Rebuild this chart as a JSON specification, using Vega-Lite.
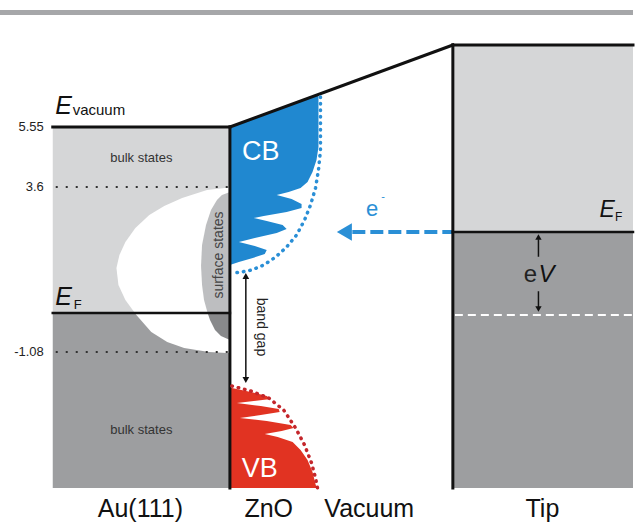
{
  "$schema": "https://vega.github.io/schema/vega-lite/v6.json",
  "width": 636,
  "height": 526,
  "padding": 0,
  "autosize": {"type": "fit", "contains": "padding"},
  "background": "white",
  "config": {"view": {"stroke": null}, "text": {"font": "Liberation Sans"}},
  "datasets": {
    "rects": [
      {"x": 0, "x2": 636, "y": 10, "y2": 15, "c": "#a6a7a9"},
      {"x": 53, "x2": 231, "y": 127, "y2": 313, "c": "#d5d6d7"},
      {"x": 53, "x2": 231, "y": 313, "y2": 488, "c": "#9d9ea0"},
      {"x": 455, "x2": 636, "y": 45, "y2": 232, "c": "#d5d6d7"},
      {"x": 455, "x2": 636, "y": 232, "y2": 488, "c": "#9d9ea0"}
    ],
    "hole": [
      {"y": 188, "x": 226, "x2": 231},
      {"y": 190, "x": 208, "x2": 231},
      {"y": 198, "x": 183, "x2": 231},
      {"y": 206, "x": 165, "x2": 231},
      {"y": 215, "x": 150, "x2": 231},
      {"y": 228, "x": 136, "x2": 231},
      {"y": 242, "x": 126, "x2": 231},
      {"y": 255, "x": 120, "x2": 231},
      {"y": 268, "x": 117, "x2": 231},
      {"y": 285, "x": 119, "x2": 231},
      {"y": 300, "x": 126, "x2": 231},
      {"y": 315, "x": 137, "x2": 231},
      {"y": 332, "x": 152, "x2": 231},
      {"y": 342, "x": 168, "x2": 231},
      {"y": 348, "x": 185, "x2": 231},
      {"y": 352, "x": 210, "x2": 231},
      {"y": 353, "x": 228, "x2": 231}
    ],
    "surfLight": [
      {"y": 192, "x": 231, "x2": 231},
      {"y": 195, "x": 223, "x2": 231},
      {"y": 200, "x": 218, "x2": 231},
      {"y": 210, "x": 212, "x2": 231},
      {"y": 225, "x": 207, "x2": 231},
      {"y": 245, "x": 203, "x2": 231},
      {"y": 266, "x": 202, "x2": 231},
      {"y": 285, "x": 203, "x2": 231},
      {"y": 300, "x": 205, "x2": 231},
      {"y": 313, "x": 208.6, "x2": 231}
    ],
    "surfDark": [
      {"y": 313, "x": 208.6, "x2": 231},
      {"y": 320, "x": 211, "x2": 231},
      {"y": 330, "x": 216, "x2": 231},
      {"y": 336, "x": 222, "x2": 231},
      {"y": 340, "x": 231, "x2": 231}
    ],
    "cb": [
      {"y": 94.4, "x": 320, "x2": 320},
      {"y": 127, "x": 231, "x2": 320},
      {"y": 147, "x": 231, "x2": 320},
      {"y": 160, "x": 231, "x2": 318},
      {"y": 172, "x": 231, "x2": 314},
      {"y": 182, "x": 231, "x2": 309},
      {"y": 188, "x": 231, "x2": 302},
      {"y": 192, "x": 231, "x2": 290},
      {"y": 195, "x": 231, "x2": 278},
      {"y": 199, "x": 231, "x2": 293},
      {"y": 204, "x": 231, "x2": 303},
      {"y": 208, "x": 231, "x2": 303},
      {"y": 212, "x": 231, "x2": 288},
      {"y": 216, "x": 231, "x2": 265},
      {"y": 218, "x": 231, "x2": 255},
      {"y": 221, "x": 231, "x2": 268},
      {"y": 225, "x": 231, "x2": 284},
      {"y": 229, "x": 231, "x2": 288},
      {"y": 233, "x": 231, "x2": 278},
      {"y": 238, "x": 231, "x2": 256},
      {"y": 242, "x": 231, "x2": 240},
      {"y": 246, "x": 231, "x2": 256},
      {"y": 250, "x": 231, "x2": 268},
      {"y": 254, "x": 231, "x2": 266},
      {"y": 258, "x": 231, "x2": 254},
      {"y": 262, "x": 231, "x2": 240},
      {"y": 265, "x": 231, "x2": 231}
    ],
    "vb": [
      {"y": 388, "x": 231, "x2": 233},
      {"y": 392, "x": 231, "x2": 252},
      {"y": 396, "x": 231, "x2": 268},
      {"y": 399, "x": 231, "x2": 272},
      {"y": 401, "x": 231, "x2": 255},
      {"y": 403, "x": 231, "x2": 238},
      {"y": 406, "x": 231, "x2": 262},
      {"y": 409, "x": 231, "x2": 280},
      {"y": 412, "x": 231, "x2": 281},
      {"y": 415, "x": 231, "x2": 262},
      {"y": 418, "x": 231, "x2": 241},
      {"y": 421, "x": 231, "x2": 268},
      {"y": 425, "x": 231, "x2": 292},
      {"y": 428, "x": 231, "x2": 295},
      {"y": 431, "x": 231, "x2": 283},
      {"y": 434, "x": 231, "x2": 266},
      {"y": 437, "x": 231, "x2": 279},
      {"y": 442, "x": 231, "x2": 294},
      {"y": 450, "x": 231, "x2": 302},
      {"y": 460, "x": 231, "x2": 309},
      {"y": 472, "x": 231, "x2": 314},
      {"y": 488, "x": 231, "x2": 318}
    ],
    "cbArc": [
      {"i": 0, "x": 322, "y": 97},
      {"i": 1, "x": 322, "y": 125},
      {"i": 2, "x": 322, "y": 150},
      {"i": 3, "x": 320, "y": 170},
      {"i": 4, "x": 317, "y": 188},
      {"i": 5, "x": 312, "y": 205},
      {"i": 6, "x": 306, "y": 220},
      {"i": 7, "x": 298, "y": 235},
      {"i": 8, "x": 288, "y": 247},
      {"i": 9, "x": 277, "y": 257},
      {"i": 10, "x": 265, "y": 265},
      {"i": 11, "x": 253, "y": 270},
      {"i": 12, "x": 243, "y": 272},
      {"i": 13, "x": 234, "y": 273}
    ],
    "vbArc": [
      {"i": 0, "x": 233, "y": 386},
      {"i": 1, "x": 252, "y": 391},
      {"i": 2, "x": 270, "y": 398},
      {"i": 3, "x": 285, "y": 410},
      {"i": 4, "x": 297, "y": 428},
      {"i": 5, "x": 306, "y": 445},
      {"i": 6, "x": 313, "y": 463},
      {"i": 7, "x": 317, "y": 478},
      {"i": 8, "x": 319, "y": 488}
    ],
    "dots": [
      {"x": 56, "x2": 231, "y": 187, "y2": 187},
      {"x": 56, "x2": 231, "y": 352, "y2": 352}
    ],
    "lines": [
      {"x": 53, "x2": 231, "y": 127, "y2": 127, "w": 3},
      {"x": 231, "x2": 455, "y": 127, "y2": 45, "w": 3},
      {"x": 455, "x2": 636, "y": 45, "y2": 45, "w": 3},
      {"x": 231, "x2": 231, "y": 127, "y2": 488, "w": 3},
      {"x": 455, "x2": 455, "y": 45, "y2": 488, "w": 3},
      {"x": 53, "x2": 231, "y": 313, "y2": 313, "w": 2.5},
      {"x": 455, "x2": 636, "y": 232, "y2": 232, "w": 2.5},
      {"x": 247, "x2": 247, "y": 279, "y2": 377, "w": 1.5},
      {"x": 541, "x2": 541, "y": 240, "y2": 256, "w": 1.5},
      {"x": 541, "x2": 541, "y": 292, "y2": 307, "w": 1.5}
    ],
    "whiteDash": [
      {"x": 457, "x2": 636, "y": 315, "y2": 315}
    ],
    "blueDash": [
      {"x": 354, "x2": 455, "y": 232, "y2": 232}
    ],
    "heads": [
      {"x": 247, "y": 276, "s": "triangle-up", "c": "#111111", "sz": 45},
      {"x": 247, "y": 380, "s": "triangle-down", "c": "#111111", "sz": 45},
      {"x": 541, "y": 237, "s": "triangle-up", "c": "#111111", "sz": 40},
      {"x": 541, "y": 309, "s": "triangle-down", "c": "#111111", "sz": 40},
      {"x": 346, "y": 232, "s": "triangle-left", "c": "#2a8fd6", "sz": 300}
    ],
    "txtC": [
      {"x": 142, "y": 158, "t": "bulk states", "s": 13, "c": "#333333", "a": 0},
      {"x": 142, "y": 430, "t": "bulk states", "s": 13, "c": "#333333", "a": 0},
      {"x": 262, "y": 152, "t": "CB", "s": 27, "c": "#ffffff", "a": 0},
      {"x": 261, "y": 469, "t": "VB", "s": 27, "c": "#ffffff", "a": 0},
      {"x": 141, "y": 509, "t": "Au(111)", "s": 25, "c": "#111111", "a": 0},
      {"x": 270, "y": 509, "t": "ZnO", "s": 25, "c": "#111111", "a": 0},
      {"x": 371, "y": 509, "t": "Vacuum", "s": 25, "c": "#111111", "a": 0},
      {"x": 545, "y": 509, "t": "Tip", "s": 25, "c": "#111111", "a": 0},
      {"x": 374, "y": 209, "t": "e", "s": 22, "c": "#2a8fd6", "a": 0},
      {"x": 385, "y": 197, "t": "-", "s": 11, "c": "#2a8fd6", "a": 0},
      {"x": 533, "y": 275, "t": "e", "s": 24, "c": "#222222", "a": 0},
      {"x": 220, "y": 255, "t": "surface states", "s": 14, "c": "#444444", "a": 270},
      {"x": 262, "y": 327, "t": "band gap", "s": 14, "c": "#222222", "a": 90}
    ],
    "txtR": [
      {"x": 44, "y": 127, "t": "5.55", "s": 13},
      {"x": 44, "y": 187, "t": "3.6", "s": 13},
      {"x": 44, "y": 352, "t": "-1.08", "s": 13}
    ],
    "txtI": [
      {"x": 64, "y": 106, "t": "E", "s": 25},
      {"x": 64, "y": 297, "t": "E", "s": 25},
      {"x": 610, "y": 210, "t": "E", "s": 23},
      {"x": 549, "y": 275, "t": "V", "s": 24}
    ],
    "txtL": [
      {"x": 73, "y": 110, "t": "vacuum", "s": 15},
      {"x": 74, "y": 305, "t": "F", "s": 13},
      {"x": 618, "y": 217, "t": "F", "s": 12}
    ]
  },
  "encoding": {
    "x": {"field": "x", "type": "quantitative", "axis": null, "scale": {"domain": [0, 636], "nice": false, "zero": false}},
    "y": {"field": "y", "type": "quantitative", "axis": null, "scale": {"domain": [0, 526], "nice": false, "zero": false, "reverse": true}}
  },
  "layer": [
    {
      "data": {"name": "rects"},
      "mark": {"type": "rect"},
      "encoding": {
        "x2": {"field": "x2"},
        "y2": {"field": "y2"},
        "color": {"field": "c", "type": "nominal", "scale": null}
      }
    },
    {
      "data": {"name": "hole"},
      "mark": {"type": "area", "orient": "horizontal", "color": "#ffffff"},
      "encoding": {"x2": {"field": "x2"}}
    },
    {
      "data": {"name": "surfLight"},
      "mark": {"type": "area", "orient": "horizontal", "color": "#bdbec0"},
      "encoding": {"x2": {"field": "x2"}}
    },
    {
      "data": {"name": "surfDark"},
      "mark": {"type": "area", "orient": "horizontal", "color": "#88898b"},
      "encoding": {"x2": {"field": "x2"}}
    },
    {
      "data": {"name": "cb"},
      "mark": {"type": "area", "orient": "horizontal", "color": "#2088d0"},
      "encoding": {"x2": {"field": "x2"}}
    },
    {
      "data": {"name": "vb"},
      "mark": {"type": "area", "orient": "horizontal", "color": "#e13322"},
      "encoding": {"x2": {"field": "x2"}}
    },
    {
      "data": {"name": "dots"},
      "mark": {"type": "rule", "color": "#333333", "strokeWidth": 2, "strokeDash": [2, 8]},
      "encoding": {"x2": {"field": "x2"}, "y2": {"field": "y2"}}
    },
    {
      "data": {"name": "whiteDash"},
      "mark": {"type": "rule", "color": "#ffffff", "strokeWidth": 2, "strokeDash": [8, 5]},
      "encoding": {"x2": {"field": "x2"}, "y2": {"field": "y2"}}
    },
    {
      "data": {"name": "blueDash"},
      "mark": {"type": "rule", "color": "#2a8fd6", "strokeWidth": 4, "strokeDash": [13, 5]},
      "encoding": {"x2": {"field": "x2"}, "y2": {"field": "y2"}}
    },
    {
      "data": {"name": "lines"},
      "mark": {"type": "rule", "color": "#111111", "strokeCap": "square"},
      "encoding": {
        "x2": {"field": "x2"},
        "y2": {"field": "y2"},
        "strokeWidth": {"field": "w", "type": "quantitative", "scale": null}
      }
    },
    {
      "data": {"name": "cbArc"},
      "mark": {"type": "line", "color": "#2a8fd6", "strokeWidth": 3.5, "strokeDash": [0.5, 6], "strokeCap": "round"},
      "encoding": {"order": {"field": "i", "type": "quantitative"}}
    },
    {
      "data": {"name": "vbArc"},
      "mark": {"type": "line", "color": "#c4262b", "strokeWidth": 3.5, "strokeDash": [0.5, 6], "strokeCap": "round"},
      "encoding": {"order": {"field": "i", "type": "quantitative"}}
    },
    {
      "data": {"name": "heads"},
      "mark": {"type": "point", "filled": true, "opacity": 1, "strokeWidth": 0},
      "encoding": {
        "shape": {"field": "s", "type": "nominal", "scale": null},
        "color": {"field": "c", "type": "nominal", "scale": null},
        "size": {"field": "sz", "type": "quantitative", "scale": null}
      }
    },
    {
      "data": {"name": "txtC"},
      "mark": {"type": "text", "align": "center", "baseline": "middle", "font": "Liberation Sans"},
      "encoding": {
        "text": {"field": "t"},
        "size": {"field": "s", "type": "quantitative", "scale": null},
        "color": {"field": "c", "type": "nominal", "scale": null},
        "angle": {"field": "a", "type": "quantitative", "scale": null}
      }
    },
    {
      "data": {"name": "txtR"},
      "mark": {"type": "text", "align": "right", "baseline": "middle", "font": "Liberation Sans", "color": "#222222"},
      "encoding": {
        "text": {"field": "t"},
        "size": {"field": "s", "type": "quantitative", "scale": null}
      }
    },
    {
      "data": {"name": "txtI"},
      "mark": {"type": "text", "align": "center", "baseline": "middle", "font": "Liberation Sans", "fontStyle": "italic", "color": "#111111"},
      "encoding": {
        "text": {"field": "t"},
        "size": {"field": "s", "type": "quantitative", "scale": null}
      }
    },
    {
      "data": {"name": "txtL"},
      "mark": {"type": "text", "align": "left", "baseline": "middle", "font": "Liberation Sans", "color": "#111111"},
      "encoding": {
        "text": {"field": "t"},
        "size": {"field": "s", "type": "quantitative", "scale": null}
      }
    }
  ]
}
